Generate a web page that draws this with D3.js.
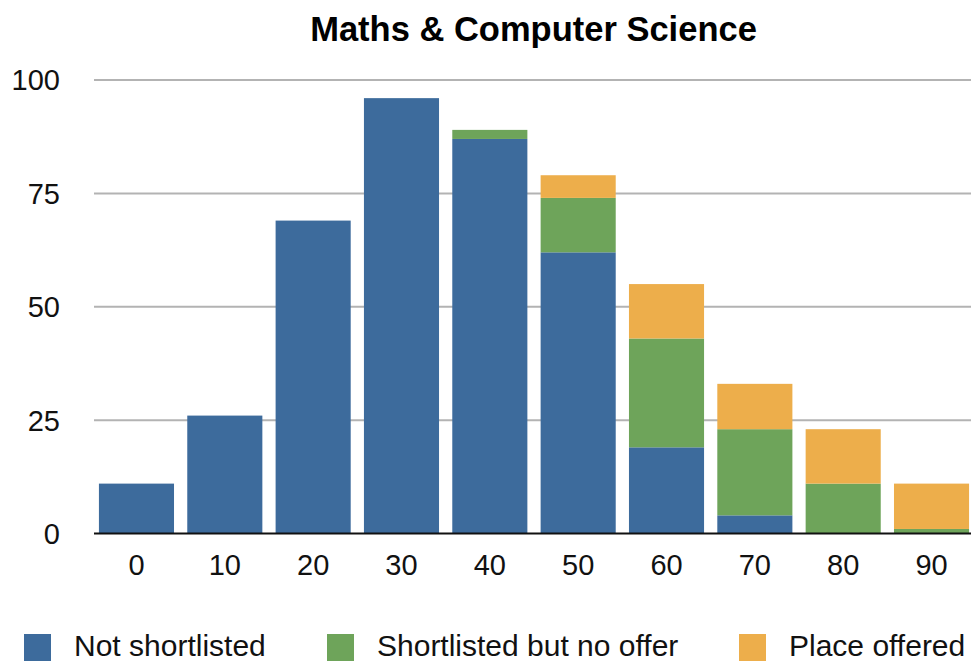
<!DOCTYPE html>
<html>
<head>
<meta charset="utf-8">
<script src="https://cdn.jsdelivr.net/npm/d3@7"></script>
<style>
  html, body { margin: 0; padding: 0; background: #fff; }
  svg { display: block; font-family: "Liberation Sans", Arial, Helvetica, sans-serif; }
</style>
</head>
<body>
<svg id="chart" width="971" height="661"></svg>
<script>
const categories = ["0", "10", "20", "30", "40", "50", "60", "70", "80", "90"];
const seriesNames = ["Not shortlisted", "Shortlisted but no offer", "Place offered"];
const notShortlisted = [11, 26, 69, 96, 87, 62, 19, 4, 0, 0];
const shortlistedNoOffer = [0, 0, 0, 0, 2, 12, 24, 19, 11, 1];
const placeOffered = [0, 0, 0, 0, 0, 5, 12, 10, 12, 10];
const yTicks = [0, 25, 50, 75, 100];
const colors = ["#3d6b9c", "#6ea45a", "#edae4b"];
const title = "Maths & Computer Science";

const svg = d3.select("#chart");
const x = d3.scaleBand().domain(categories).range([92.3, 975.7]).paddingInner(0.15).paddingOuter(0.075);
const y = d3.scaleLinear().domain([0, 100]).range([533.5, 80]);

const table = categories.map((c, i) => ({
  cat: c,
  "Not shortlisted": notShortlisted[i],
  "Shortlisted but no offer": shortlistedNoOffer[i],
  "Place offered": placeOffered[i]
}));
const stacked = d3.stack().keys(seriesNames)(table);

// gridlines
svg.append("g").selectAll("line").data(yTicks.filter(d => d > 0)).join("line")
  .attr("x1", 94).attr("x2", 971)
  .attr("y1", d => y(d)).attr("y2", d => y(d))
  .attr("stroke", "#b3b3b3").attr("stroke-width", 2);

// y labels
svg.append("g").selectAll("text").data(yTicks).join("text")
  .attr("x", 60).attr("y", d => y(d)).attr("dy", "0.36em")
  .attr("text-anchor", "end").attr("font-size", 29).attr("fill", "#111")
  .text(d => d);

// bars
svg.append("g").selectAll("g").data(stacked).join("g")
  .attr("fill", (d, i) => colors[i])
  .selectAll("rect").data(d => d).join("rect")
  .attr("x", d => x(d.data.cat))
  .attr("width", x.bandwidth())
  .attr("y", d => y(d[1]))
  .attr("height", d => Math.max(0, y(d[0]) - y(d[1])));

// baseline
svg.append("line").attr("x1", 94).attr("x2", 971)
  .attr("y1", y(0)).attr("y2", y(0))
  .attr("stroke", "#111").attr("stroke-width", 2);

// x labels
svg.append("g").selectAll("text").data(categories).join("text")
  .attr("x", d => x(d) + x.bandwidth() / 2).attr("y", 575)
  .attr("text-anchor", "middle").attr("font-size", 29).attr("fill", "#111")
  .text(d => d);

// title
svg.append("text").attr("x", 533.5).attr("y", 41)
  .attr("text-anchor", "middle").attr("font-size", 34.5).attr("font-weight", "bold")
  .attr("fill", "#000").text(title);

// legend
const legendX = [24, 327, 739];
const lg = svg.append("g").selectAll("g").data(seriesNames).join("g")
  .attr("transform", (d, i) => `translate(${legendX[i]},634)`);
lg.append("rect").attr("width", 27).attr("height", 27).attr("fill", (d, i) => colors[i]);
lg.append("text").attr("x", 50).attr("y", 22).attr("font-size", 30).attr("fill", "#111").text(d => d);
</script>
</body>
</html>
